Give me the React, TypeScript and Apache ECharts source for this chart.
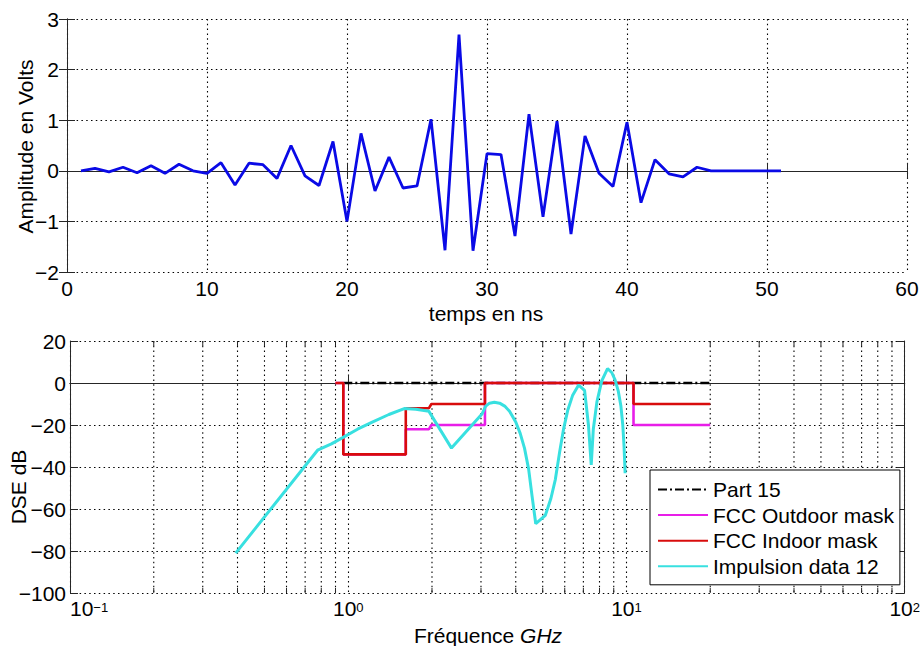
import React, { useEffect, useRef } from 'react';
import * as echarts from 'echarts';

const FONT = "'Liberation Sans', Arial, Helvetica, sans-serif";

// Top plot: time-domain pulse
const timeNs = [1, 2, 3, 4, 5, 6, 7, 8, 9, 10, 11, 12, 13, 14, 15, 16, 17, 18, 19, 20, 21, 22, 23, 24, 25, 26, 27, 28, 29, 30, 31, 32, 33, 34, 35, 36, 37, 38, 39, 40, 41, 42, 43, 44, 45, 46, 47, 48, 49, 50, 51];
const amplitudeV = [0, 0.05, -0.02, 0.07, -0.04, 0.1, -0.05, 0.13, 0, -0.05, 0.16, -0.28, 0.15, 0.12, -0.15, 0.5, -0.1, -0.29, 0.58, -1.0, 0.74, -0.4, 0.27, -0.34, -0.3, 1.02, -1.57, 2.69, -1.58, 0.34, 0.32, -1.29, 1.12, -0.91, 0.98, -1.25, 0.69, -0.05, -0.31, 0.96, -0.63, 0.22, -0.06, -0.12, 0.07, 0, 0, 0, 0, 0, 0];

// Bottom plot: spectral masks and spectrum (GHz, dB)
const part15Freq = [0.96, 20];
const part15Db = [0, 0];
const outdoorFreq = [0.9, 0.96, 0.96, 1.61, 1.61, 1.95, 1.99, 3.1, 3.1, 10.6, 10.6, 20];
const outdoorDb = [0, 0, -34, -34, -22, -22, -20, -20, 0, 0, -20, -20];
const indoorFreq = [0.9, 0.96, 0.96, 1.61, 1.61, 1.95, 1.99, 3.1, 3.1, 10.6, 10.6, 20];
const indoorDb = [0, 0, -34, -34, -12, -12, -10, -10, 0, 0, -10, -10];
const impulseFreq = [0.394, 0.776, 0.87, 0.955, 1.08, 1.22, 1.4, 1.59, 1.75, 1.95, 2.35, 3.03, 3.12, 3.22, 3.35, 3.5, 3.65, 3.8, 4.0, 4.15, 4.3, 4.45, 4.58, 4.72, 5.11, 5.35, 5.55, 5.75, 5.94, 6.15, 6.4, 6.73, 7.07, 7.3, 7.47, 7.6, 7.83, 8.15, 8.55, 8.85, 9.1, 9.35, 9.55, 9.7, 9.8, 9.89];
const impulseDb = [-81, -32, -29, -26, -22, -18.6, -15, -12.2, -12.5, -13.5, -31, -14.6, -11, -9.6, -9.2, -9.6, -11, -13.5, -18.6, -24, -31, -41, -54, -67, -63, -55, -46, -33, -22, -13, -6, -1, -3.5, -20, -39, -22, -9, 1, 6.8, 5, 1.5, -4, -11, -20, -30, -43];

const minorFreqTicks = [0.2, 0.3, 0.4, 0.5, 0.6, 0.7, 0.8, 0.9, 2, 3, 4, 5, 6, 7, 8, 9, 20, 30, 40, 50, 60, 70, 80, 90];
const legendNames = ['Part 15', 'FCC Outdoor mask', 'FCC Indoor mask', 'Impulsion data 12'];

const zip = (a: number[], b: number[]) => a.map((v, i) => [v, b[i]]);
const minus = (v: number) => String(v).replace('-', '\u2212');

const AXIS_COLOR = '#262626';
const GRID_DASH = [1.5, 3.3];

function buildOption() {
  const axisLine = { show: true, lineStyle: { color: AXIS_COLOR, width: 1 } };
  const tickIn = { show: true, inside: true, length: 8, lineStyle: { color: AXIS_COLOR } };
  const gridLine = { show: true, lineStyle: { color: '#000', width: 1.1, type: GRID_DASH } };
  const labelStyle = { color: '#000', fontSize: 21, fontFamily: FONT };

  const logLabel = {
    margin: 8,
    alignMinLabel: 'left',
    formatter: (v: number) => {
      const e = Math.round(Math.log10(v));
      return `{b|10}{s|${e < 0 ? '\u2212' : ''}${Math.abs(e)}}`;
    },
    rich: {
      b: { fontSize: 21, lineHeight: 15, fontFamily: FONT, color: '#000' },
      s: { fontSize: 13, lineHeight: 8, fontFamily: FONT, color: '#000', verticalAlign: 'top' },
    },
  };

  return {
    animation: false,
    backgroundColor: '#fff',
    grid: [
      { left: 67, top: 19, width: 840, height: 253 },
      { left: 70, top: 341, width: 838, height: 252 },
    ],
    xAxis: [
      { type: 'value', gridIndex: 0, min: 0, max: 60, interval: 10, axisLine, axisTick: tickIn, splitLine: gridLine, axisLabel: { ...labelStyle, margin: 6 } },
      { type: 'value', gridIndex: 0, position: 'top', min: 0, max: 60, interval: 10, axisLine, axisTick: tickIn, splitLine: { show: false }, axisLabel: { show: false } },
      { type: 'log', logBase: 10, gridIndex: 1, min: 0.1, max: 100, axisLine, axisTick: tickIn, splitLine: gridLine, axisLabel: logLabel },
      { type: 'log', logBase: 10, gridIndex: 1, position: 'top', min: 0.1, max: 100, axisLine, axisTick: tickIn, splitLine: { show: false }, axisLabel: { show: false } },
    ],
    yAxis: [
      { type: 'value', gridIndex: 0, min: -2, max: 3, interval: 1, axisLine, axisTick: tickIn, splitLine: gridLine, axisLabel: { ...labelStyle, margin: 8, formatter: minus } },
      { type: 'value', gridIndex: 0, position: 'right', min: -2, max: 3, interval: 1, axisLine, axisTick: tickIn, splitLine: { show: false }, axisLabel: { show: false } },
      { type: 'value', gridIndex: 1, min: -100, max: 20, interval: 20, axisLine, axisTick: tickIn, splitLine: gridLine, axisLabel: { ...labelStyle, lineHeight: 12, margin: 4, formatter: minus } },
      { type: 'value', gridIndex: 1, position: 'right', min: -100, max: 20, interval: 20, axisLine, axisTick: tickIn, splitLine: { show: false }, axisLabel: { show: false } },
    ],
    legend: {
      data: legendNames,
      orient: 'vertical',
      left: 650,
      top: 470,
      padding: [9, 6, 8, 7],
      itemWidth: 50,
      itemHeight: 14,
      itemGap: 4.6,
      backgroundColor: '#fff',
      borderColor: '#000',
      borderWidth: 1,
      borderRadius: 0,
      itemStyle: { opacity: 0 },
      textStyle: { color: '#000', fontSize: 21, fontFamily: FONT, padding: [0, 0, 0, 0] },
    },
    graphic: [
      { type: 'text', x: 25, y: 146.5, rotation: Math.PI / 2, style: { text: 'Amplitude en Volts', fontSize: 21, fontFamily: FONT, fill: '#000', align: 'center', verticalAlign: 'middle' } },
      { type: 'text', x: 486, y: 313, style: { text: 'temps en ns', fontSize: 21, fontFamily: FONT, fill: '#000', align: 'center', verticalAlign: 'middle' } },
      { type: 'text', x: 18, y: 487, rotation: Math.PI / 2, style: { text: 'DSE dB', fontSize: 21, fontFamily: FONT, fill: '#000', align: 'center', verticalAlign: 'middle' } },
      {
        type: 'text', x: 488, y: 635,
        style: {
          text: '{a|Fréquence }{b|GHz}', align: 'center', verticalAlign: 'middle',
          rich: {
            a: { fontSize: 21, fontFamily: FONT, fill: '#000' },
            b: { fontSize: 21, fontFamily: FONT, fill: '#000', fontStyle: 'italic' },
          },
        },
      },
    ],
    series: [
      {
        type: 'line', name: 'pulse', xAxisIndex: 0, yAxisIndex: 0,
        data: zip(timeNs, amplitudeV), showSymbol: false, symbol: 'none',
        lineStyle: { color: '#0a0ae6', width: 2.8 }, z: 3,
      },
      {
        type: 'custom', name: 'minor', xAxisIndex: 2, yAxisIndex: 2, z: 1, silent: true,
        data: minorFreqTicks.map((f) => [f, -100]),
        encode: { x: 0, y: 1 },
        renderItem: (_p: any, api: any) => {
          const v = api.value(0);
          const top = api.coord([v, 20]);
          const bot = api.coord([v, -100]);
          return {
            type: 'group',
            children: [
              { type: 'line', shape: { x1: top[0], y1: top[1], x2: bot[0], y2: bot[1] }, style: { stroke: '#000', lineWidth: 1.1, lineDash: GRID_DASH } },
              { type: 'line', shape: { x1: bot[0], y1: bot[1], x2: bot[0], y2: bot[1] - 5 }, style: { stroke: AXIS_COLOR, lineWidth: 1 } },
              { type: 'line', shape: { x1: top[0], y1: top[1], x2: top[0], y2: top[1] + 5 }, style: { stroke: AXIS_COLOR, lineWidth: 1 } },
            ],
          };
        },
      },
      {
        type: 'line', name: 'Part 15', xAxisIndex: 2, yAxisIndex: 2,
        data: zip(part15Freq, part15Db), showSymbol: false, symbol: 'none',
        lineStyle: { color: '#000', width: 2.6, type: [9, 3, 2, 3] }, itemStyle: { color: '#000' },
      },
      {
        type: 'line', name: 'FCC Outdoor mask', xAxisIndex: 2, yAxisIndex: 2,
        data: zip(outdoorFreq, outdoorDb), showSymbol: false, symbol: 'none',
        lineStyle: { color: '#e81ee8', width: 2.6 }, itemStyle: { color: '#e81ee8' },
      },
      {
        type: 'line', name: 'FCC Indoor mask', xAxisIndex: 2, yAxisIndex: 2,
        data: zip(indoorFreq, indoorDb), showSymbol: false, symbol: 'none',
        lineStyle: { color: '#d80c0c', width: 2.6 }, itemStyle: { color: '#d80c0c' },
      },
      {
        type: 'line', name: 'Impulsion data 12', xAxisIndex: 2, yAxisIndex: 2,
        data: zip(impulseFreq, impulseDb), showSymbol: false, symbol: 'none',
        lineStyle: { color: '#38e0e0', width: 3 }, itemStyle: { color: '#38e0e0' },
      },
    ],
  };
}

export default function App() {
  const ref = useRef<HTMLDivElement>(null);
  useEffect(() => {
    if (!ref.current) return;
    const chart = echarts.init(ref.current, null, { renderer: 'svg' });
    chart.setOption(buildOption() as any);
    return () => chart.dispose();
  }, []);
  return <div ref={ref} style={{ position: 'fixed', left: 0, top: 0, width: 923, height: 646, background: '#fff' }} />;
}
